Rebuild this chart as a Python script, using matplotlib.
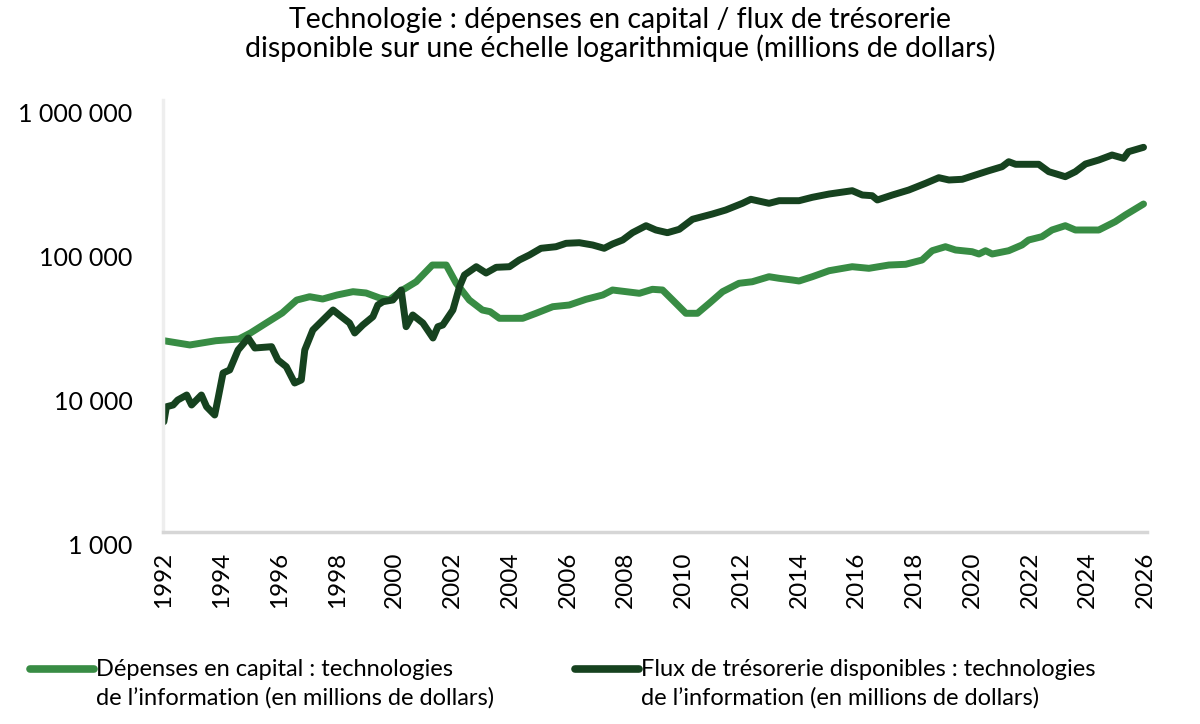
import matplotlib
matplotlib.use("Agg")
import matplotlib.pyplot as plt
import matplotlib.transforms as mtransforms
from matplotlib.ticker import FixedLocator, NullLocator

plt.rcParams["font.family"] = ["Lato", "DejaVu Sans"]

# Dépenses en capital (millions de dollars)
capex_years = [1992.0, 1992.9, 1993.8, 1994.6, 1995.0, 1995.55, 1996.1, 1996.6,
               1997.05, 1997.5, 1998.0, 1998.55, 1999.0, 1999.47, 1999.8, 2000.27,
               2000.74, 2001.3, 2001.78, 2002.12, 2002.58, 2003.03, 2003.3, 2003.62,
               2004.43, 2004.89, 2005.47, 2006.04, 2006.62, 2007.2, 2007.54, 2008.47,
               2008.92, 2009.27, 2009.62, 2010.08, 2010.48, 2010.89, 2011.35, 2011.92,
               2012.38, 2012.96, 2013.31, 2013.77, 2014.0, 2014.46, 2015.04, 2015.84,
               2016.42, 2017.11, 2017.69, 2018.26, 2018.61, 2019.07, 2019.42, 2019.99,
               2020.23, 2020.46, 2020.69, 2021.26, 2021.72, 2021.95, 2022.41, 2022.76,
               2023.22, 2023.57, 2024.38, 2024.95, 2025.3, 2025.93]
capex_values = [21300, 19900, 21300, 21900, 24100, 28300, 33200, 40800,
                43050, 41500, 44250, 46650, 45700, 42200, 40800, 47950,
                54700, 71450, 71450, 53600, 40800, 34800, 33880, 30480,
                30480, 33020, 36700, 37700, 41300, 44240, 47920, 45460,
                48450, 47920, 40840, 33020, 33020, 38740, 46640, 53350,
                54700, 59280, 57780, 56230, 55350, 59280, 65240, 69550,
                67780, 71450, 72280, 77430, 89840, 95760, 90850, 88440,
                85230, 89840, 85230, 89840, 98420, 106600, 112400, 125100,
                134000, 125100, 125100, 142900, 159000, 189600]

# Flux de trésorerie disponibles (millions de dollars)
fcf_years = [1992.0, 1992.09, 1992.32, 1992.48, 1992.79, 1992.96, 1993.3, 1993.48,
             1993.76, 1993.88, 1994.05, 1994.28, 1994.57, 1994.92, 1995.15, 1995.73,
             1995.95, 1996.24, 1996.53, 1996.76, 1996.88, 1997.16, 1997.51, 1997.86,
             1998.15, 1998.43, 1998.61, 1998.89, 1999.24, 1999.41, 1999.59, 1999.93,
             2000.22, 2000.39, 2000.62, 2000.97, 2001.32, 2001.49, 2001.66, 2002.01,
             2002.24, 2002.41, 2002.82, 2003.16, 2003.51, 2003.97, 2004.31, 2004.66,
             2005.06, 2005.58, 2005.93, 2006.39, 2006.85, 2007.25, 2007.54, 2007.89,
             2008.23, 2008.7, 2009.04, 2009.44, 2009.85, 2010.31, 2011.0, 2011.46,
             2012.04, 2012.33, 2012.96, 2013.31, 2014.0, 2014.46, 2015.04, 2015.84,
             2016.19, 2016.53, 2016.71, 2017.23, 2017.8, 2018.38, 2018.84, 2019.19,
             2019.65, 2020.11, 2020.57, 2021.03, 2021.26, 2021.5, 2022.3, 2022.65,
             2023.22, 2023.57, 2023.92, 2024.38, 2024.84, 2025.24, 2025.41, 2025.93]
fcf_values = [5830, 7410, 7620, 8250, 8940, 7620, 8940, 7410,
              6495, 8520, 12710, 13340, 18360, 22250, 18960, 19360,
              15650, 14060, 10830, 11370, 18360, 25280, 29670, 34800,
              31270, 28280, 24100, 27380, 31270, 37700, 39750, 40840,
              47920, 26650, 32140, 28280, 22250, 26650, 27380, 34800,
              50520, 60910, 69550, 62890, 68880, 69550, 77430, 83850,
              93350, 95760, 101100, 102100, 98420, 93350, 100000, 106600,
              119800, 134000, 125100, 119800, 126500, 148500, 161600, 172200,
              191700, 204400, 191700, 199900, 199900, 211000, 222400, 234500,
              218900, 216500, 202200, 218900, 237100, 263900, 288700, 278300,
              281400, 301500, 322800, 344100, 372800, 357700, 357700, 317800,
              293400, 317800, 359400, 383100, 415000, 393600, 437500, 469400]

y_ticks = [1000, 10000, 100000, 1000000]
y_tick_labels = ["1 000", "10 000", "100 000", "1 000 000"]
x_ticks = list(range(1992, 2027, 2))

title = ("Technologie : dépenses en capital / flux de trésorerie\n"
         "disponible sur une échelle logarithmique (millions de dollars)")
capex_label = "Dépenses en capital : technologies\nde l’information (en millions de dollars)"
fcf_label = "Flux de trésorerie disponibles : technologies\nde l’information (en millions de dollars)"

light_green = "#388C44"
dark_green = "#16421F"

fig = plt.figure(figsize=(12, 7.24), dpi=100)
ax = fig.add_axes([163 / 1200, 1 - 532 / 724, (1147 - 163) / 1200, (532 - 100) / 724])

ax.plot(capex_years, capex_values, color=light_green, lw=5,
        solid_capstyle="round", solid_joinstyle="round", label=capex_label)
ax.plot(fcf_years, fcf_values, color=dark_green, lw=5,
        solid_capstyle="round", solid_joinstyle="round", label=fcf_label)

ax.set_yscale("log")
ax.set_ylim(1000, 1000000)
ax.set_xlim(1991.97, 2026.05)
ax.yaxis.set_major_locator(FixedLocator(y_ticks))
ax.yaxis.set_minor_locator(NullLocator())
ax.set_yticklabels(y_tick_labels)
ax.set_xticks(x_ticks)
ax.set_xticklabels([str(y) for y in x_ticks], rotation=90)

ax.tick_params(axis="both", length=0, colors="black")
ax.tick_params(axis="y", pad=22, labelsize=18)
ax.tick_params(axis="x", pad=14, labelsize=17.5)
shift = mtransforms.ScaledTranslation(0, -13 / 100, fig.dpi_scale_trans)
for lab in ax.get_yticklabels():
    lab.set_transform(lab.get_transform() + shift)

for side in ["top", "right"]:
    ax.spines[side].set_visible(False)
ax.spines["left"].set_color("#EEEEEE")
ax.spines["left"].set_linewidth(2.5)
ax.spines["bottom"].set_color("#D6D6D6")
ax.spines["bottom"].set_linewidth(2.5)

fig.text(0.517, 0.99, title, ha="center", va="top", fontsize=20.5, linespacing=1.05)

leg = fig.legend(loc="lower left", bbox_to_anchor=(0.0075, -0.008), ncol=2, frameon=False,
                 handlelength=2.7, handletextpad=0.1, columnspacing=3.4,
                 prop={"size": 17})
for t in leg.get_texts():
    t.set_linespacing(1.42)
# keep the legend line level with the first text line, as in the original
up = mtransforms.ScaledTranslation(0, 15 / 100, fig.dpi_scale_trans)
for h in leg.get_lines():
    h.set_linewidth(5.5)
    h.set_transform(h.get_transform() + up)

fig.savefig("out.png", dpi=100)
